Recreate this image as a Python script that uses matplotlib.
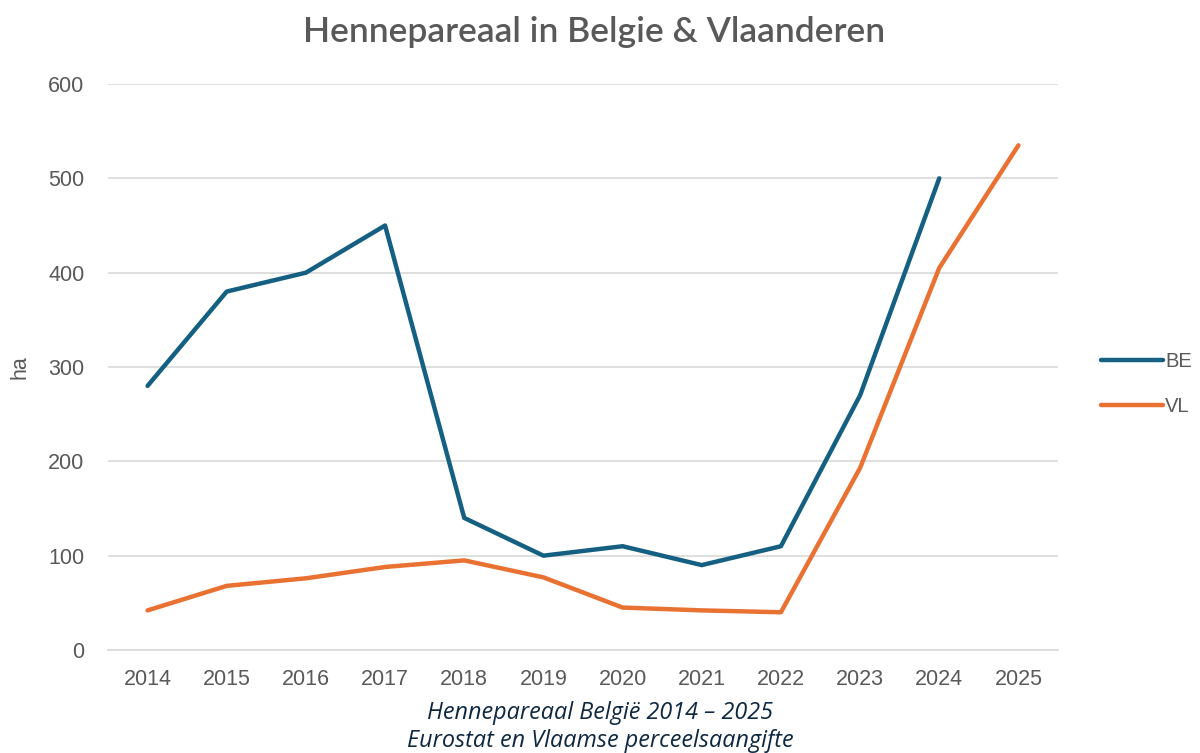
import matplotlib
matplotlib.use("Agg")
import matplotlib.pyplot as plt

years = [2014, 2015, 2016, 2017, 2018, 2019, 2020, 2021, 2022, 2023, 2024, 2025]
be = [280, 380, 400, 450, 140, 100, 110, 90, 110, 270, 500]
vl = [42, 68, 76, 88, 95, 77, 45, 42, 40, 193, 405, 535]
yticks = [0, 100, 200, 300, 400, 500, 600]

W, H = 1200, 753
fig = plt.figure(figsize=(W / 100, H / 100), dpi=100)
ax = fig.add_axes([108 / W, 1 - 650 / H, (1058 - 108) / W, (650 - 84) / H])

be_col = "#156082"
vl_col = "#E97132"
grey = "#595959"
tick_font = {"family": "Liberation Sans", "size": 15.5}

x = list(range(len(years)))
ax.plot(x[:len(be)], be, color=be_col, lw=3.2, solid_capstyle="round", solid_joinstyle="round", label="BE")
ax.plot(x, vl, color=vl_col, lw=3.2, solid_capstyle="round", solid_joinstyle="round", label="VL")

ax.set_xlim(-0.5, len(years) - 0.5)
ax.set_ylim(0, 600)
ax.set_yticks(yticks)
ax.set_xticks(x)
ax.set_xticklabels([str(y) for y in years])
ax.grid(axis="y", color="#D9D9D9", lw=1.2)
ax.set_axisbelow(True)
for s in ["top", "right", "left"]:
    ax.spines[s].set_visible(False)
ax.spines["bottom"].set_color("#D9D9D9")
ax.spines["bottom"].set_linewidth(1.2)
ax.tick_params(axis="y", length=0, colors=grey, pad=17)
ax.tick_params(axis="x", length=0, colors=grey, pad=14)
for lab in ax.get_xticklabels() + ax.get_yticklabels():
    lab.set_family(tick_font["family"])
    lab.set_size(tick_font["size"])

fig.text(20 / W, 1 - 367 / H, "ha", rotation=90, ha="center", va="center",
         fontsize=15.5, color=grey, family="Liberation Sans")

fig.text(594 / W, 1 - 32 / H, "Hennepareaal in Belgie & Vlaanderen", ha="center", va="center",
         fontsize=25.5, color=grey, family="Lato", fontweight="semibold")

leg = fig.legend(loc="center left", bbox_to_anchor=(1101 / W, 1 - 384 / H), frameon=False,
                 borderaxespad=0, borderpad=0,
                 handlelength=3.1, handletextpad=0.08, labelspacing=1.25,
                 prop={"family": "Liberation Sans", "size": 14.5})
for t in leg.get_texts():
    t.set_color(grey)

cap_col = "#0E2841"
fig.text(600 / W, 1 - 713 / H, "Hennepareaal België 2014 – 2025", ha="center", va="center",
         fontsize=16.8, style="italic", color=cap_col, family="Open Sans")
fig.text(600 / W, 1 - 741 / H, "Eurostat en Vlaamse perceelsaangifte", ha="center", va="center",
         fontsize=16.8, style="italic", color=cap_col, family="Open Sans")

fig.savefig("out.png", dpi=100, facecolor="white")
